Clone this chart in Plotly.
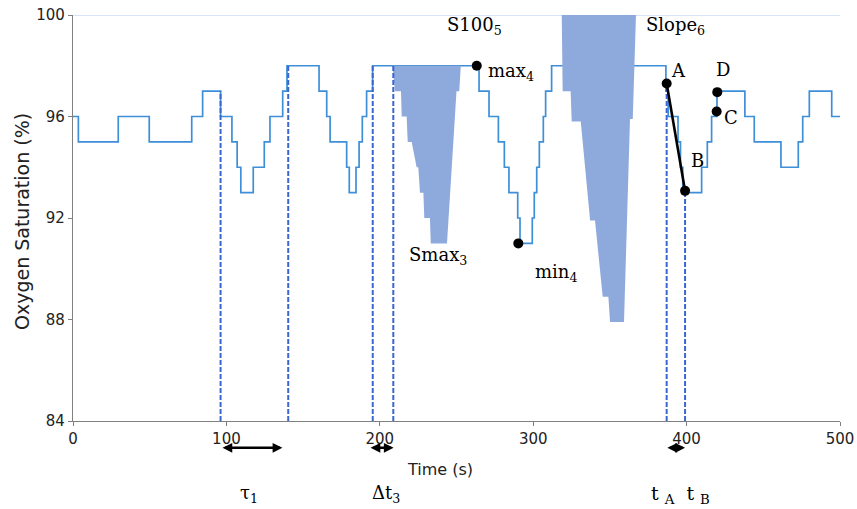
import plotly.graph_objects as go

# ---- data ----
step_times = [0, 3.5, 29.5, 49.7, 77.4, 84.5, 96.2, 103.6, 107, 109.4, 117.5, 124.7, 128.4, 136.7, 139.5,
              160.4, 165.4, 167.6, 178.4, 180.1, 184.5, 186.5, 188.6, 191.4, 195.3,
              264.7, 271.2, 277.3, 281.2, 284.2, 289.9, 291.4,
              299.4, 300.7, 302.3, 304, 306.6, 308.1, 312,
              386.5, 388, 394.4, 396, 397.5,
              409.8, 413.5, 416.3, 419.8,
              438, 444.1, 461.5, 472.8, 475.7, 480, 494.6, 500]
step_levels = [96, 95, 96, 95, 96, 97, 96, 95, 94, 93, 94, 95, 96, 97, 98,
               97, 96, 95, 94, 93, 94, 95, 96, 97, 98,
               97, 96, 95, 94, 93, 92, 91,
               92, 93, 94, 95, 96, 97, 98,
               97, 96, 95, 94, 93,
               94, 95, 96, 97,
               96, 95, 94, 95, 96, 97, 96, 96]

smax_t = [208.2, 209.9, 213.8, 214.3, 217.5, 218.2, 220.8, 224.0, 225.1, 226.2, 228.4, 229.0, 232.7,
          233.2, 243.8, 250.0, 251.8, 252.8]
smax_v = [98, 97, 97, 96, 96, 95, 95, 94, 94, 93, 93, 92, 92, 91, 91, 97, 97, 98]

slope_t = [318.6, 319.2, 324.4, 325.1, 331.0, 337.1, 340.3, 345.3, 349.0, 350.1, 359.2, 363.1, 364.9, 367.0]
slope_v = [100, 97, 97, 95.8, 95.8, 91.9, 91.9, 88.9, 88.9, 87.9, 87.9, 95.9, 95.9, 100]

dash_t = [96.2, 140.3, 195.4, 208.8, 387, 399]
dash_top = [97, 98, 98, 98, 97.3, 93.07]

dot_t = [263.2, 290.3, 387, 399, 419.6, 420]
dot_v = [98, 91, 97.3, 93.07, 96.2, 96.96]

slope_line_t = [387, 399]
slope_line_v = [97.3, 93.07]

ref_t = [0, 500]
ref_v = [100, 100]

arrow_spans = [(96.5, 136.5), (193.0, 209.0), (386.5, 399.0)]

x_ticks = [0, 100, 200, 300, 400, 500]
y_ticks = [84, 88, 92, 96, 100]

LINE = '#3f8fd8'
FILL = '#8eaadc'
DASH = '#3a66d2'
SERIF = 'DejaVu Serif'

fig = go.Figure()

fig.add_trace(go.Scatter(x=ref_t, y=ref_v, mode='lines', line=dict(color='#b3cbee', width=1),
                         hoverinfo='skip', showlegend=False))
fig.add_trace(go.Scatter(x=step_times, y=step_levels, mode='lines', line=dict(color=LINE, width=1.7, shape='hv'),
                         showlegend=False))
fig.add_trace(go.Scatter(x=smax_t, y=smax_v, mode='lines', fill='toself', fillcolor=FILL,
                         line=dict(width=0, color=FILL), showlegend=False))
fig.add_trace(go.Scatter(x=slope_t, y=slope_v, mode='lines', fill='toself', fillcolor=FILL,
                         line=dict(width=0, color=FILL), showlegend=False))

for t, top in zip(dash_t, dash_top):
    fig.add_trace(go.Scatter(x=[t, t], y=[84, top], mode='lines',
                             line=dict(color=DASH, width=2, dash='5px,2px'), showlegend=False))

fig.add_trace(go.Scatter(x=slope_line_t, y=slope_line_v, mode='lines', line=dict(color='black', width=2.6),
                         showlegend=False))
fig.add_trace(go.Scatter(x=dot_t, y=dot_v, mode='markers', marker=dict(color='black', size=10),
                         showlegend=False))

ann = []
def txt(x, y, s, xanchor='center', size=18, xref='x', yref='y'):
    ann.append(dict(x=x, y=y, text=s, showarrow=False, xref=xref, yref=yref, xanchor=xanchor,
                    yanchor='middle', font=dict(family=SERIF, size=size, color='black')))

txt(262, 99.55, 'S100<sub>5</sub>')
txt(269, 97.75, 'max<sub>4</sub>', xanchor='left')
txt(393, 99.55, 'Slope<sub>6</sub>')
txt(238, 90.5, 'Smax<sub>3</sub>')
txt(315, 89.85, 'min<sub>4</sub>')
txt(394.5, 97.8, 'A')
txt(406.8, 94.25, 'B')
txt(429, 95.95, 'C')
txt(424, 97.85, 'D')
txt(115, -0.18, 'τ<sub>1</sub>', yref='paper')
txt(204, -0.18, 'Δt<sub>3</sub>', yref='paper')
txt(396, -0.18, 't&nbsp;<sub>A</sub>&nbsp;&nbsp;t&nbsp;<sub>B</sub>', yref='paper', size=19)

for a, b in arrow_spans:
    ann.append(dict(x=b, y=-0.066, ax=a, ay=0, xref='x', yref='paper', axref='x', ayref='pixel',
                    text='', showarrow=True, arrowhead=2, arrowside='end+start', arrowsize=0.75,
                    arrowwidth=2.6, arrowcolor='black'))

ann.append(dict(x=239, y=-0.148, xref='x', yref='paper', text='Time (s)', showarrow=False,
                xanchor='center', font=dict(family='DejaVu Sans', size=16, color='#222')))
ann.append(dict(x=0, y=0.49, xref='paper', yref='paper', xshift=-51, text='Oxygen Saturation (%)',
                xanchor='center', yanchor='middle',
                textangle=-90, showarrow=False, font=dict(family='DejaVu Sans', size=19, color='#222')))

fig.update_layout(
    width=857, height=509, margin=dict(l=73, r=17, t=15, b=88, autoexpand=False),
    paper_bgcolor='white', plot_bgcolor='white', annotations=ann,
    xaxis=dict(range=[0, 500], tickvals=x_ticks, showgrid=False, zeroline=False, showline=True,
               automargin=False,
               linecolor='#808080', linewidth=1.3, ticks='outside', ticklen=4, tickcolor='#808080',
               tickfont=dict(family='DejaVu Sans', size=15, color='#222')),
    yaxis=dict(range=[84, 100], tickvals=y_ticks, showgrid=False, zeroline=False, showline=True,
               automargin=False,
               linecolor='#808080', linewidth=1.3, ticks='outside', ticklen=4, tickcolor='#808080',
               tickfont=dict(family='DejaVu Sans', size=15, color='#222')),
)

fig.write_html('out.html')
